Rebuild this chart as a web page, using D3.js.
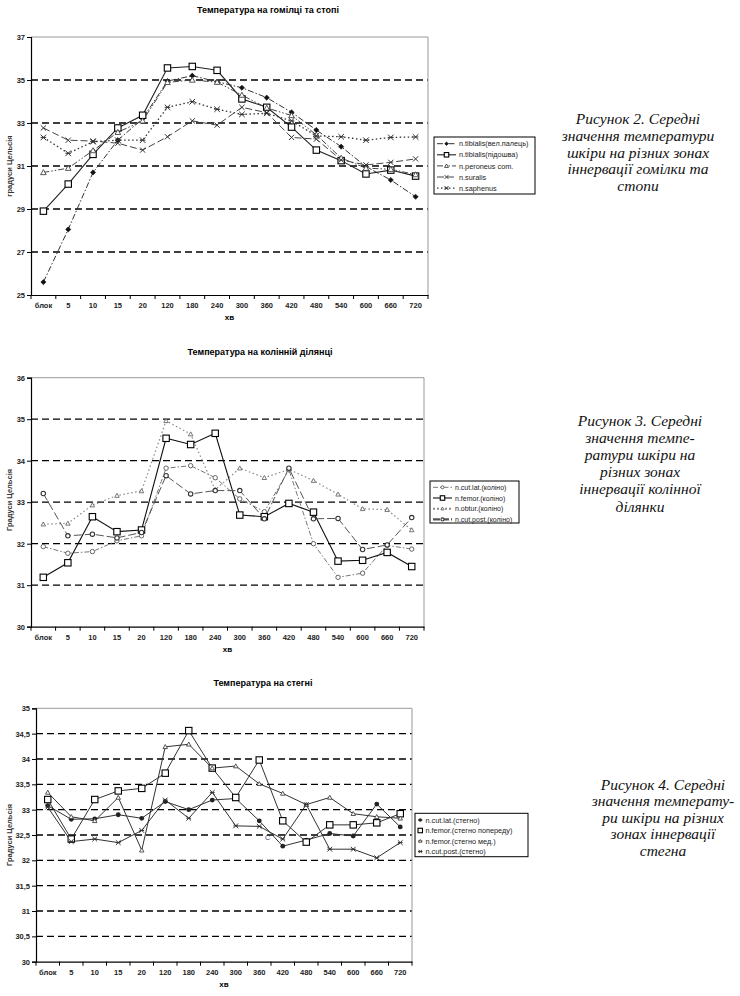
<!DOCTYPE html>
<html>
<head>
<meta charset="utf-8">
<script src="https://cdn.jsdelivr.net/npm/d3@7"></script>
<style>
body { margin: 0; background: #fff; }
svg { display: block; }
</style>
</head>
<body>
<script>
// категорії (хв)
const cats = ["блок","5","10","15","20","120","180","240","300","360","420","480","540","600","660","720"];

// Рисунок 2 - гомілка та стопа
const tibPal = [25.6,28.05,30.7,32.2,33.2,34.95,35.2,34.92,34.64,34.18,33.5,32.67,31.9,30.97,30.35,29.57];
const tibPid = [28.9,30.16,31.54,32.77,33.36,35.56,35.63,35.45,34.12,33.73,32.81,31.74,31.25,30.63,30.81,30.53];
const peron  = [30.7,30.9,31.72,32.57,33.1,34.89,35.0,34.9,34.3,33.7,33.35,32.45,31.37,30.9,30.85,30.6];
const sural  = [32.77,32.2,32.16,32.06,31.74,32.36,33.1,32.9,33.73,33.48,32.33,32.25,31.28,31.05,31.17,31.33];
const saph   = [32.33,31.59,32.13,32.2,32.2,33.73,33.99,33.64,33.4,33.45,33.1,32.4,32.36,32.2,32.33,32.35];

// Рисунок 3 - колінна ділянка
const kCutLat  = [31.93,31.77,31.81,32.07,32.19,33.82,33.88,33.59,33.08,32.77,33.78,32.0,31.19,31.29,31.96,31.87];
const kFemor   = [31.19,31.54,32.65,32.29,32.33,34.54,34.39,34.66,32.69,32.65,32.97,32.76,31.58,31.6,31.79,31.45];
const kObtur   = [32.47,32.49,32.93,33.16,33.27,34.96,34.64,33.3,33.82,33.59,33.79,33.52,33.19,32.84,32.82,32.33];
const kCutPost = [33.21,32.19,32.23,32.14,32.27,33.64,33.2,33.28,33.28,32.6,33.82,32.6,32.61,31.86,31.97,32.63];

// Рисунок 4 - стегно
const sCutLat  = [33.08,32.81,32.82,32.9,32.83,33.16,33.0,33.19,33.22,32.78,32.28,32.4,32.53,32.48,33.11,32.66];
const sFemorP  = [33.2,32.42,33.2,33.37,33.42,33.72,34.56,33.82,33.24,33.98,32.78,32.36,32.7,32.7,32.74,32.92];
const sFemorM  = [33.34,32.86,32.78,33.24,32.2,34.24,34.29,33.82,33.86,33.51,33.32,33.1,33.24,32.92,32.86,32.83];
const sCutPost = [33.05,32.37,32.42,32.35,32.59,33.19,32.83,33.34,32.68,32.67,32.42,33.1,32.22,32.22,32.05,32.35];

const svg = d3.select("body").append("svg")
    .attr("width", 740).attr("height", 996);

const FONT = "Liberation Sans, Arial, sans-serif";

// маркери
function marker(g, type, x, y, s, col) {
  s = s || 1;
  if (type == "square") {
    g.append("rect").attr("x", x - 3.2*s).attr("y", y - 3.2*s).attr("width", 6.4*s).attr("height", 6.4*s)
      .attr("fill", "#fff").attr("stroke", "#000").attr("stroke-width", 1.1);
  } else if (type == "diamond") {
    g.append("path").attr("d", `M${x},${y-2.6*s}L${x+2.6*s},${y}L${x},${y+2.6*s}L${x-2.6*s},${y}Z`)
      .attr("fill", "#111").attr("stroke", "#111").attr("stroke-width", 0.6);
  } else if (type == "odiamond") {
    g.append("circle").attr("cx", x).attr("cy", y).attr("r", 2.2*s)
      .attr("fill", "#fff").attr("stroke", col || "#555").attr("stroke-width", 0.9);
  } else if (type == "circle") {
    g.append("circle").attr("cx", x).attr("cy", y).attr("r", 2.6*s)
      .attr("fill", "#fff").attr("stroke", col || "#333").attr("stroke-width", 1.1);
  } else if (type == "triangle") {
    g.append("path").attr("d", `M${x},${y-2.8*s}L${x+2.8*s},${y+2.2*s}L${x-2.8*s},${y+2.2*s}Z`)
      .attr("fill", "#fff").attr("stroke", col || "#444").attr("stroke-width", 0.9);
  } else if (type == "cross") {
    const r = 2.6*s;
    g.append("path").attr("d", `M${x-r},${y-r}L${x+r},${y+r}M${x+r},${y-r}L${x-r},${y+r}`)
      .attr("stroke", col || "#333").attr("stroke-width", 1);
  } else if (type == "star") {
    const r = 2.8*s;
    g.append("path").attr("d", `M${x-r},${y-r}L${x+r},${y+r}M${x+r},${y-r}L${x-r},${y+r}M${x-r},${y}L${x+r},${y}`)
      .attr("stroke", col || "#333").attr("stroke-width", 1);
  } else if (type == "filled") {
    g.append("circle").attr("cx", x).attr("cy", y).attr("r", 2.4*s).attr("fill", "#222");
  }
}

function drawChart(cfg) {
  const g = svg.append("g");
  const x = d3.scaleBand().domain(cats).range([cfg.left, cfg.right]);
  const y = d3.scaleLinear().domain([cfg.yMin, cfg.yMax]).range([cfg.bottom, cfg.top]);
  const cx = c => x(c) + x.bandwidth()/2;
  const ticks = d3.range(cfg.yMin, cfg.yMax + 0.001, cfg.step);

  // сітка
  g.selectAll(".grid").data(ticks.filter(t => t > cfg.yMin && t < cfg.yMax)).enter()
    .append("line")
    .attr("x1", cfg.left).attr("x2", cfg.right)
    .attr("y1", d => y(d)).attr("y2", d => y(d))
    .attr("stroke", "#000").attr("stroke-width", 1.3).attr("stroke-dasharray", "7,4");

  // рамка справа та зверху
  g.append("path")
    .attr("d", `M${cfg.left},${cfg.top}H${cfg.right}V${cfg.bottom}`)
    .attr("fill", "none").attr("stroke", "#999").attr("stroke-width", 1);

  // вісь Y
  const ya = d3.axisLeft(y).tickValues(ticks).tickSize(4).tickPadding(2)
    .tickFormat(d => String(+d.toFixed(1)).replace(".", ","));
  const yg = g.append("g").attr("transform", `translate(${cfg.left},0)`).call(ya);
  yg.select(".domain").attr("stroke", "#000").attr("stroke-width", 1.2);
  yg.selectAll("text").attr("font-family", FONT).attr("font-size", 7.5).attr("font-weight", "bold").attr("fill", "#222");

  // вісь X
  const xa = d3.axisBottom(x).tickSize(0).tickPadding(8);
  const xg = g.append("g").attr("transform", `translate(0,${cfg.bottom})`).call(xa);
  xg.select(".domain").attr("stroke", "#000").attr("stroke-width", 1.2);
  xg.selectAll("text").attr("font-family", FONT).attr("font-size", 7.5).attr("font-weight", "bold").attr("fill", "#222");
  g.selectAll(".xt").data(cats).enter().append("line")
    .attr("x1", d => x(d)).attr("x2", d => x(d))
    .attr("y1", cfg.bottom).attr("y2", cfg.bottom + 4)
    .attr("stroke", "#000");
  g.append("line").attr("x1", cfg.right).attr("x2", cfg.right)
    .attr("y1", cfg.bottom).attr("y2", cfg.bottom + 4).attr("stroke", "#000");

  // підписи
  g.append("text").attr("x", cfg.titleX).attr("y", cfg.titleY)
    .attr("text-anchor", "middle").attr("font-family", FONT).attr("font-size", 9)
    .attr("font-weight", "bold").text(cfg.title);
  g.append("text").attr("x", (cfg.left + cfg.right)/2).attr("y", cfg.bottom + 25)
    .attr("text-anchor", "middle").attr("font-family", FONT).attr("font-size", 8)
    .attr("font-weight", "bold").text("хв");
  g.append("text")
    .attr("transform", `translate(${cfg.ylabX},${cfg.ylabY}) rotate(-90)`)
    .attr("text-anchor", "middle").attr("font-family", FONT).attr("font-size", 7.5)
    .attr("font-weight", "bold").attr("fill", "#333").text(cfg.ylab);

  // серії
  const line = d3.line().x((d, i) => cx(cats[i])).y(d => y(d));
  cfg.series.forEach(s => {
    g.append("path").datum(s.values).attr("d", line)
      .attr("fill", "none").attr("stroke", s.color).attr("stroke-width", s.width || 1)
      .attr("stroke-dasharray", s.dash || null);
  });
  cfg.series.forEach(s => {
    s.values.forEach((v, i) => marker(g, s.marker, cx(cats[i]), y(v), s.ms, s.mcol));
  });

  // легенда
  const L = cfg.legend;
  g.append("rect").attr("x", L.x).attr("y", L.y).attr("width", L.w).attr("height", L.h)
    .attr("fill", "#fff").attr("stroke", "#000").attr("stroke-width", 1);
  cfg.series.forEach((s, i) => {
    const yy = L.y + L.first + i * L.gap;
    g.append("line").attr("x1", L.x + 3).attr("x2", L.tx - 3).attr("y1", yy).attr("y2", yy)
      .attr("stroke", s.color).attr("stroke-width", s.lw || s.width || 1)
      .attr("stroke-dasharray", s.ldash || s.dash || null);
    marker(g, s.marker, (L.x + L.tx)/2, yy, (s.ms || 1) * 0.7, s.mcol);
    g.append("text").attr("x", L.tx).attr("y", yy + 2.6)
      .attr("font-family", FONT).attr("font-size", L.fs).attr("fill", "#222").text(s.name);
  });

  // підпис рисунка
  const C = cfg.caption;
  g.append("text").attr("x", C.x).attr("y", C.y)
    .attr("text-anchor", "middle").attr("font-family", "Liberation Serif, Times New Roman, serif")
    .attr("font-style", "italic").attr("font-size", 15.5).attr("fill", "#111")
    .selectAll("tspan").data(C.lines).enter().append("tspan")
    .attr("x", C.x).attr("dy", (d, i) => i ? C.lh : 0).text(d => d);
  return {g, x, y, cx};
}

drawChart({
  left: 31, right: 428, top: 37, bottom: 295, yMin: 25, yMax: 37, step: 2,
  title: "Температура на гомілці та стопі", titleX: 268, titleY: 13,
  ylab: "градуси Цельсія", ylabX: 12, ylabY: 166,
  series: [
    {name: "n.tibialis(вел.палець)", values: tibPal, marker: "diamond", color: "#333", dash: "6,2,1.5,2"},
    {name: "n.tibialis(підошва)", values: tibPid, marker: "square", color: "#222", width: 1.1},
    {name: "n.peroneus com.", values: peron, marker: "triangle", color: "#444", dash: "6,2,1.5,2,1.5,2"},
    {name: "n.suralis", values: sural, marker: "cross", color: "#444", dash: "7,3"},
    {name: "n.saphenus", values: saph, marker: "star", color: "#333", dash: "1.5,2.5", width: 1.3}
  ],
  legend: {x: 434, y: 137, w: 101, h: 57, first: 6.7, gap: 11.1, tx: 459, fs: 7.3},
  caption: {x: 638, y: 124, lh: 16.8, lines: ["Рисунок 2. Середні", "значення температури", "шкіри на різних зонах", "іннервації гомілки та", "стопи"]}
});

drawChart({
  left: 31, right: 424, top: 377.7, bottom: 626.7, yMin: 30, yMax: 36, step: 1,
  title: "Температура на колінній ділянці", titleX: 260, titleY: 355,
  ylab: "Градуси Цельсія", ylabX: 12, ylabY: 500,
  series: [
    {name: "n.cut.lat.(коліно)", values: kCutLat, marker: "odiamond", color: "#777", dash: "5,2,1.5,2", mcol: "#555"},
    {name: "n.femor.(коліно)", values: kFemor, marker: "square", color: "#111", width: 1.1},
    {name: "n.obtur.(коліно)", values: kObtur, marker: "triangle", color: "#888", dash: "1.5,2.5", width: 1.2, ms: 0.8, mcol: "#666", lw: 2, ldash: "2,2"},
    {name: "n.cut.post.(коліно)", values: kCutPost, marker: "circle", color: "#555", dash: "8,3", ms: 0.85, lw: 2.2, ldash: "7,2"}
  ],
  legend: {x: 430, y: 481, w: 89, h: 42, first: 6.3, gap: 10.7, tx: 455, fs: 7},
  caption: {x: 640, y: 426, lh: 17.1, lines: ["Рисунок 3. Середні", "значення темпе-", "ратури шкіри на", "різних зонах", "іннервації колінної", "ділянки"]}
});

const c3 = drawChart({
  left: 36, right: 412, top: 708.3, bottom: 961.7, yMin: 30, yMax: 35, step: 0.5,
  title: "Температура на стегні", titleX: 263, titleY: 686,
  ylab: "Градуси Цельсія", ylabX: 12, ylabY: 835,
  series: [
    {name: "n.cut.lat.(стегно)", values: sCutLat, marker: "filled", color: "#333"},
    {name: "n.femor.(стегно попереду)", values: sFemorP, marker: "square", color: "#333"},
    {name: "n.femor.(стегно мед.)", values: sFemorM, marker: "triangle", color: "#333", ms: 0.8},
    {name: "n.cut.post.(стегно)", values: sCutPost, marker: "star", color: "#333", ms: 0.85}
  ],
  legend: {x: 415, y: 813.3, w: 113, h: 43.4, first: 6.7, gap: 10.5, tx: 425.5, fs: 7.3},
  caption: {x: 663, y: 790, lh: 16.4, lines: ["Рисунок 4. Середні", "значення температу-", "ри шкіри на різних", "зонах іннервації", "стегна"]}
});

// дрібний артефакт на рисунку 4
c3.g.append("text").attr("x", 265).attr("y", 840).attr("font-family", FONT)
  .attr("font-size", 7).attr("fill", "#336").text("C");
</script>
</body>
</html>
